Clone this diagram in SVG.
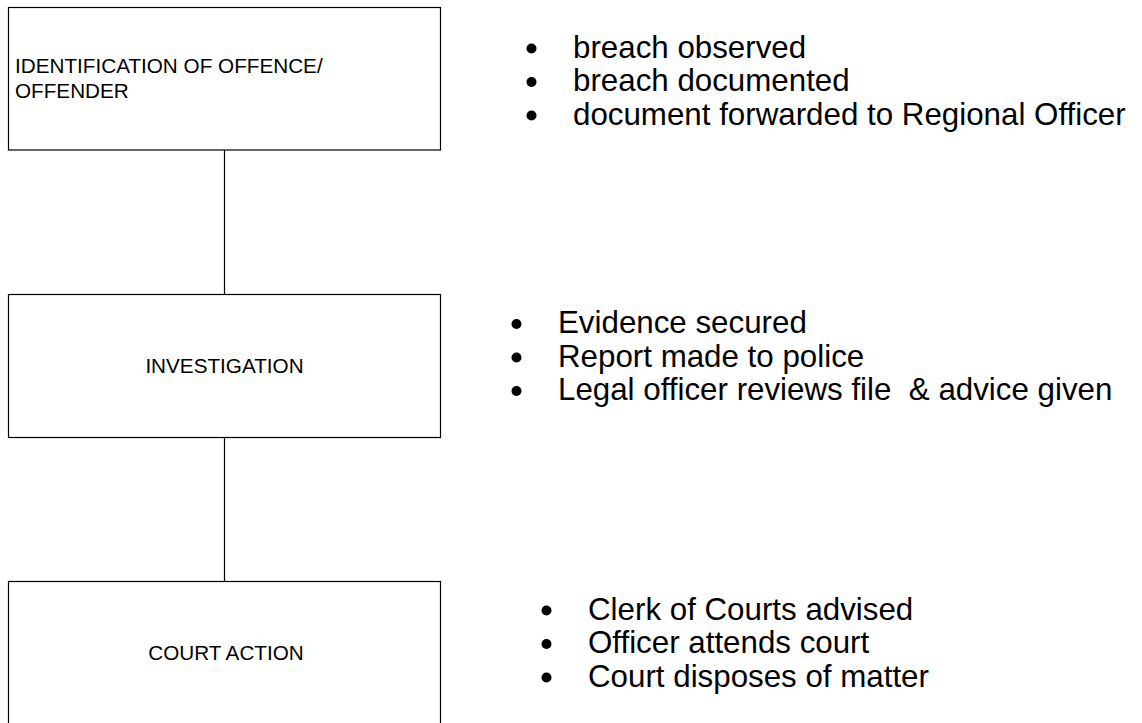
<svg xmlns="http://www.w3.org/2000/svg" width="1142" height="723" viewBox="0 0 1142 723">
  <style>
    .box { fill: #ffffff; stroke: #000000; stroke-width: 1.2; }
    .label { font-family: "Liberation Sans", Arial, sans-serif; font-size: 20.7px; fill: #000000; }
    .item { font-family: "Liberation Sans", Arial, sans-serif; font-size: 31.3px; fill: #000000; }
    .dot { fill: #000000; }
    .link { stroke: #000000; stroke-width: 1.2; fill: none; }
  </style>
  <rect width="1142" height="723" fill="#ffffff"/>

  <!-- vertical links between stages -->
  <g id="connectors">
    <line class="link" x1="224.5" y1="150" x2="224.5" y2="294.5"/>
    <line class="link" x1="224.5" y1="437.5" x2="224.5" y2="581.5"/>
  </g>

  <g id="node-identification">
    <rect class="box" x="8.5" y="7.5" width="432" height="142.5"/>
    <text class="label" x="15" y="72.5">IDENTIFICATION OF OFFENCE/</text>
    <text class="label" x="15" y="97.5">OFFENDER</text>
  </g>

  <g id="node-investigation">
    <rect class="box" x="8.5" y="294.5" width="432" height="143"/>
    <text class="label" x="224.5" y="372.5" text-anchor="middle">INVESTIGATION</text>
  </g>

  <g id="node-court">
    <rect class="box" x="8.5" y="581.5" width="432" height="160"/>
    <text class="label" x="226" y="660" text-anchor="middle">COURT ACTION</text>
  </g>

  <g id="notes-identification">
    <circle class="dot" cx="531.5" cy="48.5" r="5"/>
    <circle class="dot" cx="531.5" cy="82" r="5"/>
    <circle class="dot" cx="531.5" cy="115.5" r="5"/>
    <text class="item" x="573" y="57.5">breach observed</text>
    <text class="item" x="573" y="91">breach documented</text>
    <text class="item" x="573" y="124.5">document forwarded to Regional Officer</text>
  </g>

  <g id="notes-investigation">
    <circle class="dot" cx="516.5" cy="324" r="5"/>
    <circle class="dot" cx="516.5" cy="357.5" r="5"/>
    <circle class="dot" cx="516.5" cy="391" r="5"/>
    <text class="item" x="558" y="333">Evidence secured</text>
    <text class="item" x="558" y="366.5">Report made to police</text>
    <text class="item" x="558" y="400" xml:space="preserve">Legal officer reviews file  &amp; advice given</text>
  </g>

  <g id="notes-court">
    <circle class="dot" cx="546.5" cy="610.5" r="5"/>
    <circle class="dot" cx="546.5" cy="644" r="5"/>
    <circle class="dot" cx="546.5" cy="677.5" r="5"/>
    <text class="item" x="588" y="619.5">Clerk of Courts advised</text>
    <text class="item" x="588" y="653">Officer attends court</text>
    <text class="item" x="588" y="686.5">Court disposes of matter</text>
  </g>
</svg>
